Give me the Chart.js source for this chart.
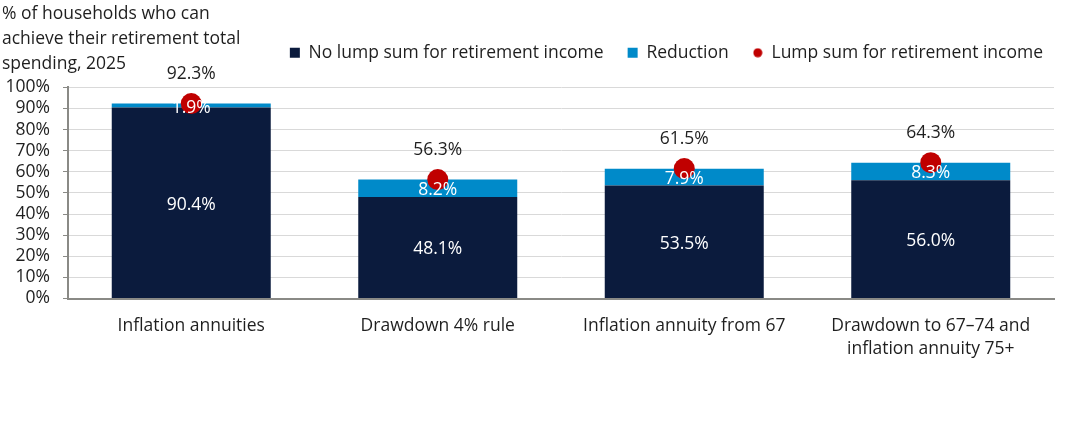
<!DOCTYPE html>
<html>
<head>
<meta charset="utf-8">
<script src="https://cdn.jsdelivr.net/npm/chart.js@4.4.1/dist/chart.umd.min.js"></script>
<style>
  html, body { margin: 0; padding: 0; background: #fff; }
  .chart-box { position: relative; width: 1067px; height: 438px; }
</style>
</head>
<body>
<div class="chart-box"><canvas class="my-chart"></canvas></div>
<script>
const categories = [
  "Inflation annuities",
  "Drawdown 4% rule",
  "Inflation annuity from 67",
  ["Drawdown to 67–74 and", "inflation annuity 75+"]
];
const noLumpSum = [90.4, 48.1, 53.5, 56.0];
const reduction = [1.9, 8.2, 7.9, 8.3];
const lumpSum = [92.3, 56.3, 61.5, 64.3];
const yTicks = [0, 10, 20, 30, 40, 50, 60, 70, 80, 90, 100];
const titleLines = [
  "% of households who can",
  "achieve their retirement total",
  "spending, 2025"
];

const navy = "#0b1b3d";
const blue = "#008ac9";
const red = "#c00000";
const textColor = "#1f1f1f";
const gridColor = "#d9d9d9";
const axisColor = "#8a8a86";
const fontFamily = '"Open Sans", sans-serif';
const fontSize = 17.5;

Chart.defaults.font.family = fontFamily;
Chart.defaults.font.size = fontSize;
Chart.defaults.color = textColor;

// small red dot for the legend
const dotIcon = document.createElement("canvas");
dotIcon.width = 10;
dotIcon.height = 10;
const dctx = dotIcon.getContext("2d");
dctx.fillStyle = red;
dctx.beginPath();
dctx.arc(5, 5, 4.5, 0, Math.PI * 2);
dctx.fill();

// title in the top-left corner, beside the legend
const cornerTitle = {
  id: "cornerTitle",
  afterDraw(chart) {
    const ctx = chart.ctx;
    ctx.save();
    ctx.font = `${fontSize}px ${fontFamily}`;
    ctx.fillStyle = textColor;
    ctx.textAlign = "left";
    ctx.textBaseline = "middle";
    titleLines.forEach((t, i) => ctx.fillText(t, 2, 14.5 + i * 25));
    ctx.restore();
  }
};

// value labels inside the segments and totals above the bars
const barLabels = {
  id: "barLabels",
  afterDatasetsDraw(chart) {
    const ctx = chart.ctx;
    ctx.save();
    ctx.font = `${fontSize}px ${fontFamily}`;
    ctx.textAlign = "center";
    ctx.textBaseline = "middle";
    ctx.fillStyle = "#fff";
    [0, 1].forEach(di => {
      const values = chart.data.datasets[di].data;
      chart.getDatasetMeta(di).data.forEach((bar, i) => {
        ctx.fillText(values[i].toFixed(1) + "%", bar.x, (bar.y + bar.base) / 2 + 2);
      });
    });
    ctx.fillStyle = textColor;
    chart.getDatasetMeta(1).data.forEach((bar, i) => {
      ctx.fillText(lumpSum[i].toFixed(1) + "%", bar.x, bar.y - 30);
    });
    ctx.restore();
  }
};

const myChart = document.querySelector(".my-chart");

new Chart(myChart, {
  type: "bar",
  data: {
    labels: categories,
    datasets: [
      {
        label: "No lump sum for retirement income",
        data: noLumpSum,
        backgroundColor: navy,
        borderWidth: 0,
        categoryPercentage: 1,
        barPercentage: 0.645,
        order: 1
      },
      {
        label: "Reduction",
        data: reduction,
        backgroundColor: blue,
        borderWidth: 0,
        categoryPercentage: 1,
        barPercentage: 0.645,
        order: 1
      },
      {
        type: "line",
        label: "Lump sum for retirement income",
        data: lumpSum,
        stack: "dots",
        showLine: false,
        pointRadius: 10.5,
        pointHoverRadius: 10.5,
        pointBackgroundColor: red,
        pointBorderWidth: 0,
        backgroundColor: red,
        borderColor: red,
        order: 0
      }
    ]
  },
  options: {
    responsive: true,
    maintainAspectRatio: false,
    animation: false,
    layout: {
      padding: { top: 20, right: 0, bottom: 62, left: 0 }
    },
    scales: {
      x: {
        stacked: true,
        grid: { display: false, drawTicks: false },
        border: { color: axisColor, width: 2 },
        ticks: {
          color: textColor,
          padding: 16,
          font: { size: fontSize, lineHeight: 1.3 }
        }
      },
      y: {
        stacked: true,
        min: yTicks[0],
        max: yTicks[yTicks.length - 1],
        afterBuildTicks: scale => {
          scale.ticks = yTicks.map(v => ({ value: v }));
        },
        ticks: {
          color: textColor,
          padding: 13,
          autoSkip: false,
          callback: v => v + "%"
        },
        grid: { color: gridColor, tickLength: 5, tickColor: axisColor },
        border: { color: axisColor, width: 2 },
        afterFit: scale => { scale.width = 68; }
      },
      yPad: {
        position: "right",
        display: true,
        grid: { display: false, drawTicks: false },
        ticks: { display: false },
        border: { display: false },
        afterFit: scale => { scale.width = 13; }
      }
    },
    plugins: {
      legend: {
        position: "top",
        align: "end",
        labels: {
          usePointStyle: true,
          boxWidth: 10,
          boxHeight: 10,
          padding: 24,
          color: textColor,
          font: { size: fontSize },
          sort: (a, b) => a.datasetIndex - b.datasetIndex,
          generateLabels: chart => {
            const items = Chart.defaults.plugins.legend.labels.generateLabels(chart);
            items.forEach(it => {
              it.pointStyle = it.datasetIndex === 2 ? dotIcon : "rect";
              it.lineWidth = 0;
            });
            return items;
          }
        }
      },
      subtitle: {
        display: true,
        text: "",
        weight: 500,
        font: { size: 1, lineHeight: 1 },
        padding: { top: 14.8, bottom: 0 }
      },
      tooltip: { enabled: false }
    }
  },
  plugins: [barLabels, cornerTitle]
});
</script>
</body>
</html>
